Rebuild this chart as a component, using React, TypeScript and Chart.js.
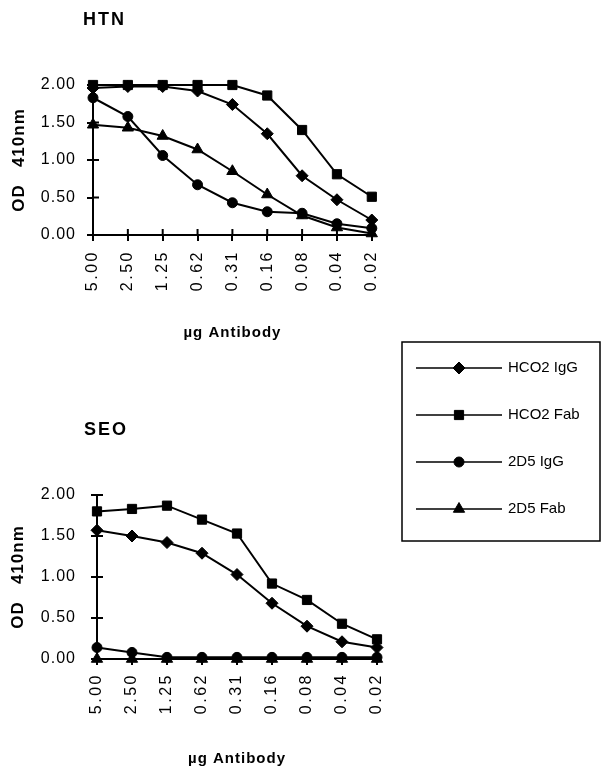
import React, { useEffect, useRef } from 'react';
import { Chart, registerables } from 'chart.js';
import { drawPoint } from 'chart.js/helpers';

Chart.register(...registerables);

// ---------- data ----------
const categories = ['5.00', '2.50', '1.25', '0.62', '0.31', '0.16', '0.08', '0.04', '0.02'];
const seriesNames = ['HCO2 IgG', 'HCO2 Fab', '2D5 IgG', '2D5 Fab'];
const yTicks = [0, 0.5, 1.0, 1.5, 2.0];
const xTitle = 'µg Antibody';
const yTitle = 'OD   410nm';
const htnTitle = 'HTN';
const seoTitle = 'SEO';

const htnHco2IgG = [1.96, 1.98, 1.98, 1.92, 1.74, 1.35, 0.79, 0.47, 0.2];
const htnHco2Fab = [2.0, 2.0, 2.0, 2.0, 2.0, 1.86, 1.4, 0.81, 0.51];
const htn2d5IgG = [1.83, 1.58, 1.06, 0.67, 0.43, 0.31, 0.29, 0.15, 0.09];
const htn2d5Fab = [1.47, 1.43, 1.32, 1.14, 0.85, 0.54, 0.26, 0.1, 0.02];

const seoHco2IgG = [1.57, 1.5, 1.42, 1.29, 1.03, 0.68, 0.4, 0.21, 0.14];
const seoHco2Fab = [1.8, 1.83, 1.87, 1.7, 1.53, 0.92, 0.72, 0.43, 0.24];
const seo2d5IgG = [0.14, 0.08, 0.02, 0.02, 0.02, 0.02, 0.02, 0.02, 0.02];
const seo2d5Fab = [0.0, 0.0, 0.0, 0.0, 0.0, 0.0, 0.0, 0.0, 0.0];

// ---------- styles ----------
const pointStyles = ['rectRot', 'rect', 'circle', 'triangle'];
const pointRadii = [6, 6.5, 5, 6.5];
const FONT = '"Liberation Sans", Arial, Helvetica, sans-serif';

type Panel = {
  title: string;
  values: number[][];
  width: number;
  height: number;
  left: number;
  top: number;
  right: number;
  bottom: number;
  titleX: number;
  titleY: number;
  yTitlePad: number;
  xTitlePad: number;
  yTickPad: number;
  xTickPad: number;
  legend: boolean;
};

function spaced(labelSpacing: string, titleSpacing: string) {
  return (s: any) => {
    if (s.__spaced) return;
    s.__spaced = true;
    const origLabels = s.drawLabels.bind(s);
    const origTitle = s.drawTitle.bind(s);
    s.drawLabels = (area: any) => {
      s.ctx.save();
      s.ctx.letterSpacing = labelSpacing;
      origLabels(area);
      s.ctx.restore();
    };
    s.drawTitle = (area: any) => {
      s.ctx.save();
      s.ctx.letterSpacing = titleSpacing;
      origTitle(area);
      s.ctx.restore();
    };
  };
}

function buildChart(canvas: HTMLCanvasElement, p: Panel) {
  const datasets = seriesNames.map((name, i) => ({
    label: name,
    data: p.values[i],
    borderColor: '#000',
    backgroundColor: '#000',
    borderWidth: 2,
    pointStyle: pointStyles[i] as any,
    pointRadius: pointRadii[i],
    pointHoverRadius: pointRadii[i],
    pointBackgroundColor: '#000',
    pointBorderColor: '#000',
    pointBorderWidth: 1,
    tension: 0,
    clip: false as any,
  }));

  const decor = {
    id: 'panelDecor',
    beforeDatasetsDraw(chart: any) {
      const ctx = chart.ctx;
      const { left, bottom } = chart.chartArea;
      ctx.save();
      ctx.strokeStyle = '#000';
      ctx.lineWidth = 2;
      const xs = chart.scales.x;
      xs.ticks.forEach((_: any, i: number) => {
        const x = xs.getPixelForTick(i);
        ctx.beginPath();
        ctx.moveTo(x, bottom);
        ctx.lineTo(x, bottom - 6);
        ctx.stroke();
      });
      const ys = chart.scales.y;
      ys.ticks.forEach((_: any, i: number) => {
        const y = ys.getPixelForTick(i);
        ctx.beginPath();
        ctx.moveTo(left, y);
        ctx.lineTo(left + 6, y);
        ctx.stroke();
      });
      ctx.restore();
    },
    afterDraw(chart: any) {
      const ctx = chart.ctx;
      ctx.save();
      ctx.fillStyle = '#000';
      ctx.font = `bold 18px ${FONT}`;
      ctx.letterSpacing = '2px';
      ctx.textAlign = 'left';
      ctx.textBaseline = 'middle';
      ctx.fillText(p.title, p.titleX, p.titleY);
      ctx.letterSpacing = '0px';
      if (p.legend) {
        const bx = 402, by = 2, bw = 198, bh = 199;
        ctx.strokeStyle = '#000';
        ctx.lineWidth = 1.5;
        ctx.strokeRect(bx, by, bw, bh);
        seriesNames.forEach((name, i) => {
          const y = 28 + i * 47;
          ctx.lineWidth = 1.5;
          ctx.beginPath();
          ctx.moveTo(416, y);
          ctx.lineTo(502, y);
          ctx.stroke();
          ctx.lineWidth = 1;
          drawPoint(ctx, { pointStyle: pointStyles[i] as any, radius: pointRadii[i], rotation: 0, borderWidth: 1 } as any, 459, y);
          ctx.font = `15px ${FONT}`;
          ctx.textBaseline = 'middle';
          ctx.fillText(name, 508, y);
        });
      }
      ctx.restore();
    },
  };

  const gridOpts = {
    display: true,
    drawOnChartArea: false,
    drawTicks: true,
    tickLength: 6,
    color: '#000',
    lineWidth: 2,
  };

  return new Chart(canvas, {
    type: 'line',
    data: { labels: categories, datasets: datasets as any },
    options: {
      responsive: false,
      animation: false,
      events: [],
      layout: { padding: { left: 0, top: p.top, right: p.width - p.right, bottom: 0 } },
      plugins: {
        legend: { display: false },
        tooltip: { enabled: false },
        title: { display: false },
      },
      scales: {
        x: {
          type: 'category',
          offset: false,
          grid: gridOpts as any,
          border: { display: true, color: '#000', width: 2 },
          ticks: {
            autoSkip: false,
            minRotation: 90,
            maxRotation: 90,
            padding: p.xTickPad,
            color: '#000',
            font: { family: FONT, size: 16 },
          },
          title: {
            display: true,
            text: xTitle,
            color: '#000',
            font: { family: FONT, size: 15, weight: 'bold' },
            padding: { top: 0, bottom: p.xTitlePad },
          },
          afterFit: (s: any) => {
            s.height = p.height - p.bottom;
          },
          afterUpdate: spaced('2.5px', '1px'),
        },
        y: {
          min: 0,
          max: 2,
          afterBuildTicks: (s: any) => {
            s.ticks = yTicks.map((v) => ({ value: v }));
          },
          grid: gridOpts as any,
          border: { display: true, color: '#000', width: 2 },
          ticks: {
            color: '#000',
            padding: p.yTickPad,
            font: { family: FONT, size: 16 },
            callback: (v: any) => Number(v).toFixed(2),
          },
          title: {
            display: true,
            text: yTitle,
            color: '#000',
            font: { family: FONT, size: 17, weight: 'bold' },
            padding: { top: p.yTitlePad, bottom: 0 },
          },
          afterFit: (s: any) => {
            s.width = p.left;
          },
          afterUpdate: spaced('1px', '1px'),
        },
      },
    } as any,
    plugins: [decor],
  });
}

const htnPanel: Panel = {
  title: htnTitle,
  values: [htnHco2IgG, htnHco2Fab, htn2d5IgG, htn2d5Fab],
  width: 400,
  height: 344,
  left: 93,
  top: 85,
  right: 375,
  bottom: 235,
  titleX: 83,
  titleY: 20,
  yTitlePad: 9,
  xTitlePad: 2,
  yTickPad: 11,
  xTickPad: 9,
  legend: false,
};

const seoPanel: Panel = {
  title: seoTitle,
  values: [seoHco2IgG, seoHco2Fab, seo2d5IgG, seo2d5Fab],
  width: 602,
  height: 430,
  left: 97,
  top: 155,
  right: 377,
  bottom: 319,
  titleX: 84,
  titleY: 90,
  yTitlePad: 8,
  xTitlePad: 2,
  yTickPad: 15,
  xTickPad: 8,
  legend: true,
};

function ChartCanvas({ panel, top }: { panel: Panel; top: number }) {
  const ref = useRef<HTMLCanvasElement | null>(null);
  useEffect(() => {
    if (!ref.current) return;
    const c = buildChart(ref.current, panel);
    return () => c.destroy();
  }, [panel]);
  return (
    <canvas
      ref={ref}
      width={panel.width}
      height={panel.height}
      style={{ position: 'absolute', left: 0, top, width: panel.width, height: panel.height }}
    />
  );
}

export default function App() {
  return (
    <div
      style={{
        position: 'absolute',
        left: 0,
        top: 0,
        width: 602,
        height: 767,
        overflow: 'hidden',
        background: '#fff',
      }}
    >
      <ChartCanvas panel={htnPanel} top={0} />
      <ChartCanvas panel={seoPanel} top={340} />
    </div>
  );
}
